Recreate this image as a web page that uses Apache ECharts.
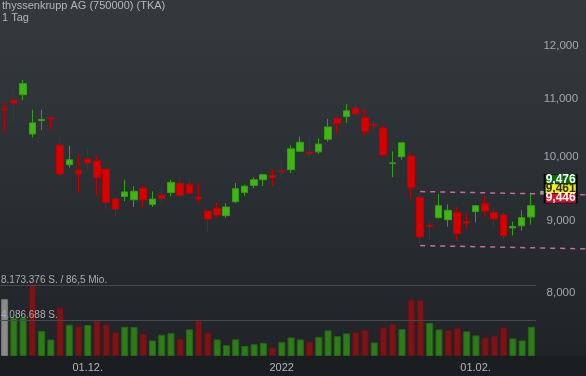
<!DOCTYPE html>
<html>
<head>
<meta charset="utf-8">
<script src="https://cdn.jsdelivr.net/npm/echarts@6/dist/echarts.min.js"></script>
<style>
  html, body { margin: 0; padding: 0; background: #1b1e21; }
  #chart { width: 586px; height: 376px; }
</style>
</head>
<body>
<div id="chart"></div>
<script>
// trading days shown (Xetra, 1 Tag)
const dates = [
  '2021-11-18', '2021-11-19', '2021-11-22', '2021-11-23', '2021-11-24', '2021-11-25', '2021-11-26', '2021-11-29', '2021-11-30',
  '2021-12-01', '2021-12-02', '2021-12-03', '2021-12-06', '2021-12-07', '2021-12-08', '2021-12-09', '2021-12-10',
  '2021-12-13', '2021-12-14', '2021-12-15', '2021-12-16', '2021-12-17', '2021-12-20', '2021-12-21', '2021-12-22',
  '2021-12-23', '2021-12-27', '2021-12-28', '2021-12-29', '2021-12-30',
  '2022-01-03', '2022-01-04', '2022-01-05', '2022-01-06', '2022-01-07', '2022-01-10', '2022-01-11', '2022-01-12',
  '2022-01-13', '2022-01-14', '2022-01-17', '2022-01-18', '2022-01-19', '2022-01-20', '2022-01-21', '2022-01-24',
  '2022-01-25', '2022-01-26', '2022-01-27', '2022-01-28', '2022-01-31',
  '2022-02-01', '2022-02-02', '2022-02-03', '2022-02-04', '2022-02-07', '2022-02-08', '2022-02-09'
];

// [open, close, low, high] in EUR
const ohlc = [
  [10.81, 10.80, 10.42, 10.93], [10.97, 10.92, 10.59, 11.16], [11.07, 11.27, 10.97, 11.34], [10.38, 10.57, 10.32, 10.80],
  [10.61, 10.63, 10.45, 10.80], [10.66, 10.64, 10.45, 10.67], [10.19, 9.72, 9.68, 10.32], [9.87, 9.95, 9.82, 10.18],
  [9.78, 9.72, 9.43, 10.04], [9.96, 9.90, 9.77, 10.14], [9.93, 9.67, 9.38, 10.01], [9.80, 9.28, 9.18, 9.83],
  [9.33, 9.18, 9.08, 9.38], [9.37, 9.44, 9.30, 9.63], [9.32, 9.45, 9.21, 9.53], [9.50, 9.32, 9.20, 9.53],
  [9.25, 9.33, 9.21, 9.45], [9.39, 9.34, 9.27, 9.53], [9.43, 9.59, 9.37, 9.63], [9.57, 9.39, 9.36, 9.66],
  [9.56, 9.42, 9.40, 9.66], [9.36, 9.33, 9.27, 9.58], [9.15, 9.03, 8.84, 9.16], [9.19, 9.09, 9.05, 9.28],
  [9.08, 9.21, 9.05, 9.27], [9.29, 9.49, 9.27, 9.58], [9.43, 9.53, 9.38, 9.55], [9.54, 9.63, 9.50, 9.67],
  [9.63, 9.71, 9.53, 9.72], [9.70, 9.66, 9.53, 9.79], [9.77, 9.76, 9.66, 9.93], [9.79, 10.13, 9.74, 10.19],
  [10.09, 10.24, 10.08, 10.34], [10.07, 10.05, 9.96, 10.34], [10.08, 10.21, 10.05, 10.31], [10.29, 10.50, 10.25, 10.64],
  [10.64, 10.56, 10.38, 10.67], [10.68, 10.78, 10.57, 10.90], [10.83, 10.73, 10.69, 10.92], [10.66, 10.42, 10.35, 10.81],
  [10.54, 10.52, 10.44, 10.60], [10.48, 10.03, 10.01, 10.52], [9.89, 9.90, 9.67, 10.09], [10.00, 10.23, 9.95, 10.24],
  [10.01, 9.51, 9.34, 10.05], [9.36, 8.77, 8.67, 9.42], [8.94, 8.92, 8.73, 9.00], [9.05, 9.23, 9.04, 9.41],
  [9.02, 9.16, 8.92, 9.25], [9.13, 8.82, 8.72, 9.21], [8.99, 8.97, 8.89, 9.12], [9.14, 9.23, 8.98, 9.24],
  [9.26, 9.15, 9.08, 9.38], [9.13, 9.03, 8.92, 9.21], [9.09, 8.79, 8.74, 9.13], [8.90, 8.92, 8.79, 8.99],
  [8.93, 9.05, 8.86, 9.16], [9.06, 9.23, 8.95, 9.43]
];

// shares traded
const volumes = [
  6548000, 4412000, 4405000, 8173376, 2868000, 1904000, 5573000, 3599000, 3448000, 3564000,
  4110000, 3646000, 2752000, 3367000, 3332000, 2601000, 1788000, 2438000, 2635000, 2020000,
  3065000, 4115000, 2717000, 1904000, 1242000, 1910000, 1161000, 1358000, 1509000, 1010000,
  1591000, 2136000, 1904000, 1672000, 2206000, 2949000, 2287000, 2601000, 2786000, 2984000,
  1556000, 3297000, 3715000, 3100000, 6502000, 6467000, 3796000, 3065000, 2984000, 3251000,
  2833000, 2368000, 2136000, 2368000, 3297000, 2020000, 1788000, 3367000
];

const priceTicks = [8, 9, 10, 11, 12];
const volumeMax = 8173376;
const volumeMaxText = '8.173.376 S. / 86,5 Mio.';

// trend channel (category index, price)
const channelTop = [[45, 9.446], [63, 9.396]];
const channelBottom = [[45, 8.646], [63, 8.600]];

// quote boxes: ask, last, bid
const quotes = [9.476, 9.461, 9.446];
const lastPrice = 9.461;

const padCount = 6;
const priceCats = dates.concat(Array.from({ length: padCount }, (_, i) => 'pad' + i));

const fmtPrice = v => v.toFixed(3).replace('.', ',');
const fmtShares = v => String(Math.round(v)).replace(/\B(?=(\d{3})+(?!\d))/g, '.');

const tickLabel = i => {
  if (i <= 0 || i >= dates.length) return '';
  const [y, m, d] = dates[i].split('-');
  const pm = dates[i - 1].split('-')[1];
  if (m === pm) return '';
  return m === '01' ? y : d + '.' + m + '.';
};

const volData = volumes.map((v, i) => {
  let c = '#8a8a8a', b = '#777';
  if (i > 0) {
    const up = ohlc[i][1] >= ohlc[i - 1][1];
    c = up ? '#2e7b19' : '#7c1417';
    b = up ? '#266614' : '#671013';
  }
  return { value: v, itemStyle: { color: c, borderColor: b, borderWidth: 1 } };
});

const quoteStyles = [
  { bg: '#07690b', fg: '#ffffff', dy: -11.3 },
  { bg: '#f4f400', fg: '#2a2a2a', dy: -1.8 },
  { bg: '#d8102a', fg: '#ffffff', dy: 7.6 }
];

const chart = echarts.init(document.getElementById('chart'));
chart.setOption({
  animation: false,
  backgroundColor: {
    type: 'linear', x: 0, y: 0, x2: 0, y2: 1,
    colorStops: [
      { offset: 0, color: '#33393d' },
      { offset: 0.5, color: '#2a2f33' },
      { offset: 0.945, color: '#202327' },
      { offset: 0.947, color: '#1b1e21' },
      { offset: 1, color: '#1b1e21' }
    ]
  },
  textStyle: { fontFamily: 'Liberation Sans, Arial, sans-serif' },
  title: {
    text: 'thyssenkrupp AG (750000) (TKA)',
    subtext: '1 Tag',
    left: 2,
    top: 0,
    padding: 0,
    itemGap: 0,
    textStyle: { fontSize: 11, fontWeight: 'normal', color: '#b3b7ba', lineHeight: 12 },
    subtextStyle: { fontSize: 11, color: '#b3b7ba', lineHeight: 11 }
  },
  grid: [
    { left: 0, right: -5, top: 0, bottom: 20, outerBoundsMode: 'none', containLabel: false },
    { left: 0, right: 50, top: 285, bottom: 20, outerBoundsMode: 'none', containLabel: false }
  ],
  xAxis: [
    {
      type: 'category',
      gridIndex: 0,
      data: priceCats,
      boundaryGap: true,
      axisLine: { show: false },
      axisTick: { show: false },
      splitLine: { show: false },
      axisLabel: {
        interval: (i) => tickLabel(i) !== '',
        formatter: (v, i) => tickLabel(i),
        color: '#b4b4b4',
        fontSize: 11,
        margin: 6
      }
    },
    {
      type: 'category',
      gridIndex: 1,
      data: dates,
      show: false
    }
  ],
  yAxis: [
    {
      type: 'log',
      logBase: 10,
      gridIndex: 0,
      position: 'right',
      min: 7.216,
      max: 12.926,
      axisLine: { show: false },
      axisTick: { show: false },
      splitLine: { show: false },
      axisLabel: {
        customValues: priceTicks,
        inside: true,
        align: 'center',
        margin: 30,
        color: '#a3a7aa',
        fontSize: 11.5,
        formatter: v => fmtPrice(v)
      }
    },
    {
      type: 'value',
      gridIndex: 1,
      min: 0,
      max: volumeMax,
      interval: volumeMax / 2,
      position: 'left',
      axisLine: { show: false },
      axisTick: { show: false },
      splitLine: { show: true, showMinLine: false, lineStyle: { color: '#45494d', width: 1 } },
      axisLabel: {
        inside: true,
        margin: 1,
        verticalAlign: 'bottom',
        showMinLabel: false,
        color: '#a9adb0',
        fontSize: 10,
        formatter: v => v >= volumeMax ? volumeMaxText : (v > 0 ? fmtShares(v) + ' S.' : '')
      },
      z: 5
    }
  ],
  series: [
    {
      type: 'bar',
      xAxisIndex: 1,
      yAxisIndex: 1,
      barWidth: 7,
      data: volData,
      silent: true,
      z: 1
    },
    {
      type: 'candlestick',
      xAxisIndex: 0,
      yAxisIndex: 0,
      barWidth: 7,
      data: ohlc,
      silent: true,
      itemStyle: {
        color: '#40b612',
        color0: '#d60000',
        borderColor: '#34a010',
        borderColor0: '#c00000',
        borderWidth: 1
      },
      markPoint: {
        silent: true,
        data: [
          {
            coord: [58, lastPrice],
            symbol: 'rect',
            symbolSize: [4, 3],
            symbolOffset: [2, 1.8],
            itemStyle: { color: '#9c9c9c' },
            label: { show: false }
          }
        ].concat(quotes.map((q, k) => ({
          coord: [60, lastPrice],
          symbol: 'rect',
          symbolSize: [32, 9.5],
          symbolOffset: [2, quoteStyles[k].dy],
          itemStyle: { color: quoteStyles[k].bg, borderColor: '#000', borderWidth: 1 },
          label: {
            show: true,
            position: 'inside',
            formatter: fmtPrice(q),
            color: quoteStyles[k].fg,
            fontSize: 12,
            fontWeight: 'bold'
          }
        })))
      }
    },
    {
      type: 'line',
      xAxisIndex: 0,
      yAxisIndex: 0,
      data: channelTop,
      symbol: 'none',
      silent: true,
      lineStyle: { color: '#c46c9a', width: 1.5, type: [5, 5] }
    },
    {
      type: 'line',
      xAxisIndex: 0,
      yAxisIndex: 0,
      data: channelBottom,
      symbol: 'none',
      silent: true,
      lineStyle: { color: '#c46c9a', width: 1.5, type: [5, 5] }
    }
  ]
});
</script>
</body>
</html>
